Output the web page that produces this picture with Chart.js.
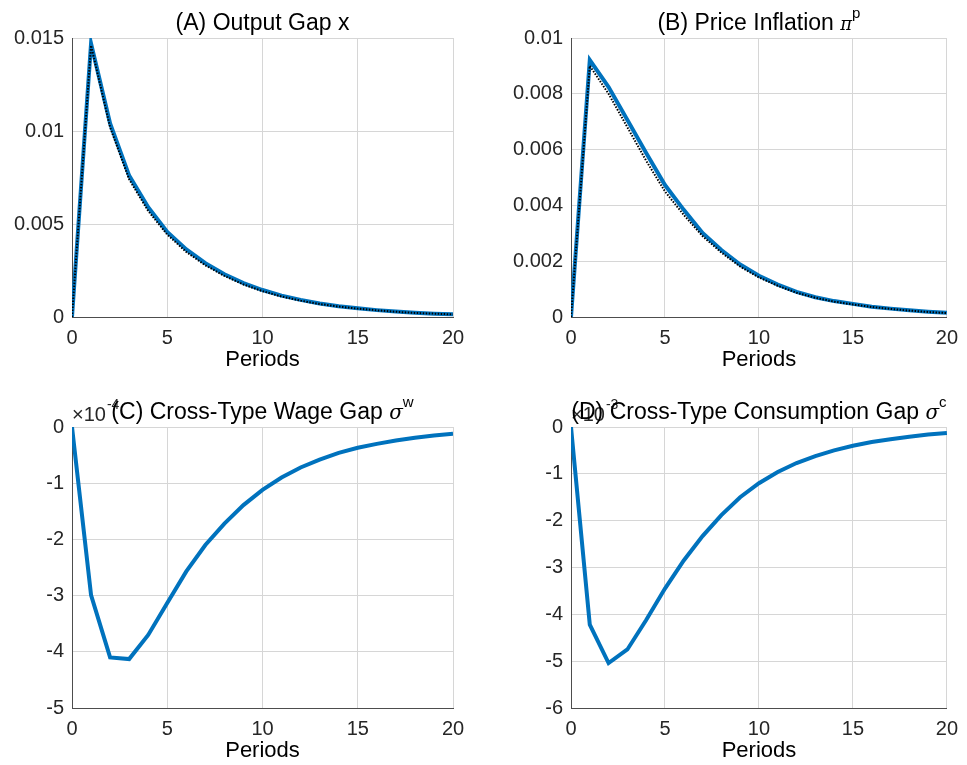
<!DOCTYPE html>
<html>
<head>
<meta charset="utf-8">
<script src="https://cdn.jsdelivr.net/npm/chart.js@4.4.1/dist/chart.umd.min.js"></script>
<style>
  html, body { margin:0; padding:0; background:#fff; }
  #wrap { position:relative; width:967px; height:765px; overflow:hidden; }
  canvas { position:absolute; }
</style>
</head>
<body>
<div id="wrap">
  <canvas id="cA" width="480" height="380" style="left:0;top:0"></canvas>
  <canvas id="cB" width="487" height="380" style="left:480px;top:0"></canvas>
  <canvas id="cC" width="480" height="385" style="left:0;top:380px"></canvas>
  <canvas id="cD" width="487" height="385" style="left:480px;top:380px"></canvas>
</div>
<script>
// impulse responses, periods 0..20
const periods = [0,1,2,3,4,5,6,7,8,9,10,11,12,13,14,15,16,17,18,19,20];

// (A) output gap: model (blue) and comparison (black dotted)
const outputGap    = [0,0.0147,0.0104,0.0076,0.0059,0.00457,0.00363,0.00289,0.0023,0.00182,0.00145,0.00115,0.00092,0.00073,0.00058,0.00047,0.00037,0.00029,0.00023,0.00018,0.00015];
const outputGapAlt = [0,0.0146,0.0102,0.0074,0.0057,0.00443,0.0035,0.00278,0.00221,0.00175,0.00139,0.0011,0.00088,0.0007,0.00056,0.00045,0.00036,0.00028,0.00022,0.00018,0.00014];

// (B) price inflation
const priceInfl    = [0,0.00921,0.00824,0.00706,0.00588,0.00473,0.00384,0.00301,0.0024,0.00188,0.00148,0.00116,0.0009,0.00071,0.00057,0.00047,0.00037,0.0003,0.00024,0.00019,0.00015];
const priceInflAlt = [0,0.009,0.008,0.0068,0.0056,0.0045,0.00366,0.0029,0.00231,0.00181,0.00142,0.00112,0.00087,0.00069,0.00055,0.00045,0.00036,0.00029,0.00023,0.00018,0.00014];

// (C) wage gap, in units of 1e-4
const wageGap = [0,-2.99,-4.1,-4.13,-3.7,-3.13,-2.57,-2.1,-1.72,-1.39,-1.12,-0.9,-0.72,-0.58,-0.46,-0.37,-0.3,-0.24,-0.19,-0.15,-0.12];
// (D) consumption gap, in units of 1e-3
const consGap = [0,-4.22,-5.04,-4.75,-4.12,-3.45,-2.85,-2.33,-1.88,-1.5,-1.2,-0.96,-0.77,-0.62,-0.5,-0.4,-0.32,-0.26,-0.21,-0.16,-0.13];

const xTicks = [0,5,10,15,20];

const BLUE = "#0072BD";
const SANS = '"Liberation Sans", Arial, Helvetica, sans-serif';

const pts = arr => periods.map((p,i)=>({ x:p, y:arr[i] }));
const fmt = v => String(Number(v.toFixed(6)));

// title with superscripts + optional x10^n label
const panelText = {
  id:"panelText",
  afterDraw(chart, args, opts){
    const ctx = chart.ctx, a = chart.chartArea;
    ctx.save();
    ctx.textBaseline = "alphabetic";
    ctx.textAlign = "left";
    if(opts.exp){
      ctx.fillStyle = "#262626";
      ctx.font = "20px " + SANS;
      ctx.fillText("\u00d710", a.left, a.top - 6);
      const w = ctx.measureText("\u00d710").width;
      ctx.font = "14px " + SANS;
      ctx.fillText(opts.exp, a.left + w + 1, a.top - 18);
    }
    ctx.fillStyle = "#000";
    let total = 0;
    opts.parts.forEach(p=>{ ctx.font = p.f; p.w = ctx.measureText(p.t).width; total += p.w; });
    let x = (a.left + a.right)/2 - total/2;
    const y = a.top - 8;
    opts.parts.forEach(p=>{ ctx.font = p.f; ctx.fillText(p.t, x, y + (p.dy||0)); x += p.w; });
    ctx.restore();
  }
};

function makeChart(id, cfg){
  const datasets = [];
  if(cfg.alt){
    datasets.push({ data: pts(cfg.alt), borderColor:"#000", borderWidth:2, borderDash:[1.5,1.5], pointRadius:0, tension:0 });
  }
  datasets.push({ data: pts(cfg.main), borderColor:BLUE, borderWidth:4, pointRadius:0, tension:0 });

  return new Chart(document.getElementById(id), {
    type:"line",
    data:{ datasets },
    options:{
      responsive:false,
      animation:false,
      layout:{ padding:{ left:0, top:cfg.padTop, right:cfg.padRight, bottom:0 } },
      plugins:{ legend:{ display:false }, tooltip:{ enabled:false }, panelText:{ parts:cfg.title, exp:cfg.exp } },
      scales:{
        x:{
          type:"linear", min:0, max:20,
          afterBuildTicks: s => { s.ticks = xTicks.map(v=>({ value:v })); },
          afterFit: s => { s.height = cfg.xH; },
          grid:{ color:"#d6d6d6", lineWidth:1, drawTicks:false },
          border:{ color:"#4d4d4d", width:1 },
          ticks:{ color:"#262626", font:{ family:SANS, size:20 }, padding:9, maxRotation:0, callback: v => fmt(v) },
          title:{ display:true, text:"Periods", color:"#000", font:{ family:SANS, size:22 }, padding:{ top:0, bottom:cfg.titlePad } }
        },
        y:{
          min:cfg.yMin, max:cfg.yMax,
          afterBuildTicks: s => { s.ticks = cfg.yTicks.map(v=>({ value:v })); },
          afterFit: s => { s.width = cfg.yW; },
          grid:{ color:"#d6d6d6", lineWidth:1, drawTicks:false },
          border:{ color:"#4d4d4d", width:1 },
          ticks:{ color:"#262626", font:{ family:SANS, size:20 }, padding:8, callback: v => fmt(v) }
        }
      }
    },
    plugins:[panelText]
  });
}

makeChart("cA", {
  main: outputGap, alt: outputGapAlt,
  yMin:0, yMax:0.015, yTicks:[0,0.005,0.01,0.015],
  yW:72, padTop:38, padRight:27, xH:63, titlePad:7,
  title:[{ t:"(A) Output Gap x", f:"23px " + SANS }]
});

makeChart("cB", {
  main: priceInfl, alt: priceInflAlt,
  yMin:0, yMax:0.01, yTicks:[0,0.002,0.004,0.006,0.008,0.01],
  yW:91, padTop:38, padRight:16, xH:63, titlePad:7,
  title:[{ t:"(B) Price Inflation ", f:"23px " + SANS }, { t:"\u03c0", f:'italic 18px "DejaVu Serif", serif' }, { t:"p", f:"15px " + SANS, dy:-12 }]
});

makeChart("cC", {
  main: wageGap,
  yMin:-5, yMax:0, yTicks:[-5,-4,-3,-2,-1,0],
  yW:72, padTop:47, padRight:27, xH:57, titlePad:1,
  exp:"-4",
  title:[{ t:"(C) Cross-Type Wage Gap ", f:"23px " + SANS }, { t:"\u03c3", f:'italic 20px "DejaVu Serif", serif' }, { t:"w", f:"15px " + SANS, dy:-12 }]
});

makeChart("cD", {
  main: consGap,
  yMin:-6, yMax:0, yTicks:[-6,-5,-4,-3,-2,-1,0],
  yW:91, padTop:47, padRight:16, xH:57, titlePad:1,
  exp:"-3",
  title:[{ t:"(D) Cross-Type Consumption Gap ", f:"23px " + SANS }, { t:"\u03c3", f:'italic 20px "DejaVu Serif", serif' }, { t:"c", f:"15px " + SANS, dy:-12 }]
});
</script>
</body>
</html>
